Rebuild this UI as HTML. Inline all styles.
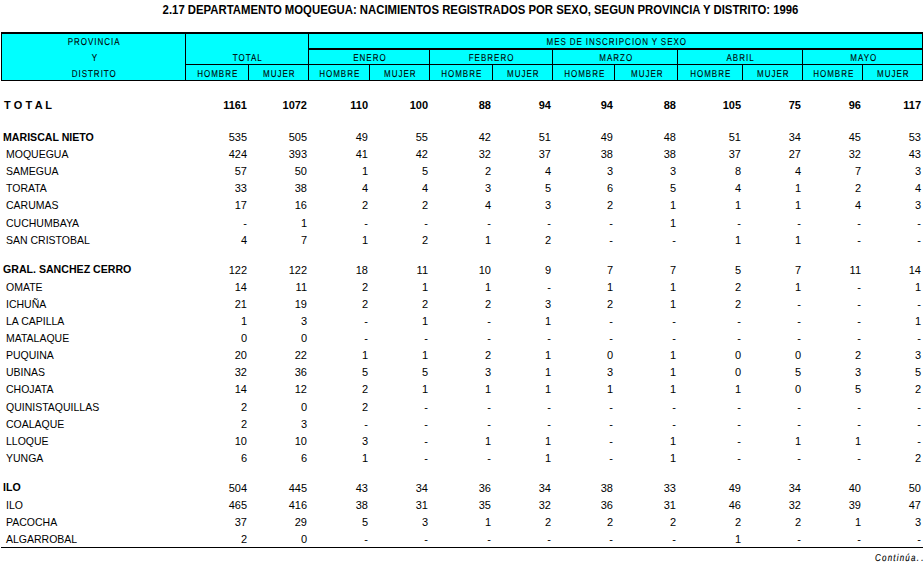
<!DOCTYPE html>
<html><head><meta charset="utf-8"><style>
html,body{margin:0;padding:0;background:#fff;}
body{width:924px;height:566px;position:relative;overflow:hidden;font-family:"Liberation Sans",sans-serif;color:#000;}
.a{position:absolute;white-space:nowrap;}
.r{position:absolute;height:17px;line-height:17px;font-size:11px;white-space:nowrap;}
.n{position:absolute;text-align:right;top:0;}
.b{font-weight:bold;}
.lr{font-size:10.5px;}
.lb{font-size:10.6px;}
.hl{position:absolute;background:#000;}
.h{position:absolute;font-size:10px;line-height:16px;height:16px;text-align:center;white-space:nowrap;word-spacing:1.5px;}
.h span{display:inline-block;transform:scaleX(0.8);text-rendering:geometricPrecision;-webkit-text-stroke:0.1px #000;letter-spacing:1.25px;word-spacing:-0.5px;position:relative;left:1.5px;}
#title{position:absolute;left:0;top:1px;width:961px;text-align:center;font-weight:bold;font-size:12px;line-height:18px;transform:scaleX(0.945);transform-origin:480.5px 0;}
#cont{position:absolute;font-style:italic;font-size:10px;line-height:12px;transform:scaleX(0.8);transform-origin:0 0;letter-spacing:1.5px;text-rendering:geometricPrecision;-webkit-text-stroke:0.15px #000;}
</style></head><body>
<div id="title">2.17 DEPARTAMENTO MOQUEGUA: NACIMIENTOS REGISTRADOS POR SEXO, SEGUN PROVINCIA Y DISTRITO: 1996</div>
<div class="a" style="left:1px;top:32px;width:922px;height:49px;background:#00ffff"></div>
<div class="hl" style="left:1px;top:32px;width:922px;height:2px"></div>
<div class="hl" style="left:1px;top:80px;width:922px;height:1px"></div>
<div class="hl" style="left:1px;top:32px;width:1px;height:49px"></div>
<div class="hl" style="left:922px;top:32px;width:1px;height:49px"></div>
<div class="hl" style="left:185px;top:32px;width:1px;height:49px"></div>
<div class="hl" style="left:308px;top:32px;width:1px;height:49px"></div>
<div class="hl" style="left:308px;top:48px;width:615px;height:2px"></div>
<div class="hl" style="left:185px;top:64px;width:738px;height:1px"></div>
<div class="hl" style="left:429px;top:48px;width:1px;height:33px"></div>
<div class="hl" style="left:552px;top:48px;width:1px;height:33px"></div>
<div class="hl" style="left:677px;top:48px;width:1px;height:33px"></div>
<div class="hl" style="left:802px;top:48px;width:1px;height:33px"></div>
<div class="hl" style="left:248px;top:64px;width:1px;height:17px"></div>
<div class="hl" style="left:369px;top:64px;width:1px;height:17px"></div>
<div class="hl" style="left:492px;top:64px;width:1px;height:17px"></div>
<div class="hl" style="left:614px;top:64px;width:1px;height:17px"></div>
<div class="hl" style="left:742px;top:64px;width:1px;height:17px"></div>
<div class="hl" style="left:862px;top:64px;width:1px;height:17px"></div>
<div class="h" style="left:1px;width:184px;top:33.5px"><span>PROVINCIA</span></div>
<div class="h" style="left:1px;width:184px;top:49.5px"><span>Y</span></div>
<div class="h" style="left:1px;width:184px;top:65.5px"><span>DISTRITO</span></div>
<div class="h" style="left:185px;width:123px;top:49.5px"><span>TOTAL</span></div>
<div class="h" style="left:308px;width:614px;top:33.5px"><span>MES DE INSCRIPCION Y SEXO</span></div>
<div class="h" style="left:308px;width:121px;top:49.5px"><span>ENERO</span></div>
<div class="h" style="left:429px;width:123px;top:49.5px"><span>FEBRERO</span></div>
<div class="h" style="left:552px;width:125px;top:49.5px"><span>MARZO</span></div>
<div class="h" style="left:677px;width:125px;top:49.5px"><span>ABRIL</span></div>
<div class="h" style="left:802px;width:120px;top:49.5px"><span>MAYO</span></div>
<div class="h" style="left:185px;width:63px;top:65.5px"><span>HOMBRE</span></div>
<div class="h" style="left:248px;width:60px;top:65.5px"><span>MUJER</span></div>
<div class="h" style="left:308px;width:61px;top:65.5px"><span>HOMBRE</span></div>
<div class="h" style="left:369px;width:60px;top:65.5px"><span>MUJER</span></div>
<div class="h" style="left:429px;width:63px;top:65.5px"><span>HOMBRE</span></div>
<div class="h" style="left:492px;width:60px;top:65.5px"><span>MUJER</span></div>
<div class="h" style="left:552px;width:62px;top:65.5px"><span>HOMBRE</span></div>
<div class="h" style="left:614px;width:63px;top:65.5px"><span>MUJER</span></div>
<div class="h" style="left:677px;width:65px;top:65.5px"><span>HOMBRE</span></div>
<div class="h" style="left:742px;width:60px;top:65.5px"><span>MUJER</span></div>
<div class="h" style="left:802px;width:60px;top:65.5px"><span>HOMBRE</span></div>
<div class="h" style="left:862px;width:60px;top:65.5px"><span>MUJER</span></div>
<div class="r" style="top:97.0px;left:0;width:924px"><span class="n b" style="left:4px;top:0px;text-align:left">T O T A L</span><span class="n b" style="left:185px;width:62px">1161</span><span class="n b" style="left:248px;width:59px">1072</span><span class="n b" style="left:308px;width:60px">110</span><span class="n b" style="left:369px;width:59px">100</span><span class="n b" style="left:429px;width:62px">88</span><span class="n b" style="left:492px;width:59px">94</span><span class="n b" style="left:552px;width:61px">94</span><span class="n b" style="left:614px;width:62px">88</span><span class="n b" style="left:677px;width:64px">105</span><span class="n b" style="left:742px;width:59px">75</span><span class="n b" style="left:802px;width:59px">96</span><span class="n b" style="left:862px;width:59px">117</span></div>
<div class="r" style="top:129.0px;left:0;width:924px"><span class="n b lb" style="left:3px;top:0px;text-align:left">MARISCAL NIETO</span><span class="n " style="left:185px;width:62px">535</span><span class="n " style="left:248px;width:59px">505</span><span class="n " style="left:308px;width:60px">49</span><span class="n " style="left:369px;width:59px">55</span><span class="n " style="left:429px;width:62px">42</span><span class="n " style="left:492px;width:59px">51</span><span class="n " style="left:552px;width:61px">49</span><span class="n " style="left:614px;width:62px">48</span><span class="n " style="left:677px;width:64px">51</span><span class="n " style="left:742px;width:59px">34</span><span class="n " style="left:802px;width:59px">45</span><span class="n " style="left:862px;width:59px">53</span></div>
<div class="r" style="top:146.0px;left:0;width:924px"><span class="n lr" style="left:6px;top:0px;text-align:left">MOQUEGUA</span><span class="n " style="left:185px;width:62px">424</span><span class="n " style="left:248px;width:59px">393</span><span class="n " style="left:308px;width:60px">41</span><span class="n " style="left:369px;width:59px">42</span><span class="n " style="left:429px;width:62px">32</span><span class="n " style="left:492px;width:59px">37</span><span class="n " style="left:552px;width:61px">38</span><span class="n " style="left:614px;width:62px">38</span><span class="n " style="left:677px;width:64px">37</span><span class="n " style="left:742px;width:59px">27</span><span class="n " style="left:802px;width:59px">32</span><span class="n " style="left:862px;width:59px">43</span></div>
<div class="r" style="top:163.0px;left:0;width:924px"><span class="n lr" style="left:6px;top:0px;text-align:left">SAMEGUA</span><span class="n " style="left:185px;width:62px">57</span><span class="n " style="left:248px;width:59px">50</span><span class="n " style="left:308px;width:60px">1</span><span class="n " style="left:369px;width:59px">5</span><span class="n " style="left:429px;width:62px">2</span><span class="n " style="left:492px;width:59px">4</span><span class="n " style="left:552px;width:61px">3</span><span class="n " style="left:614px;width:62px">3</span><span class="n " style="left:677px;width:64px">8</span><span class="n " style="left:742px;width:59px">4</span><span class="n " style="left:802px;width:59px">7</span><span class="n " style="left:862px;width:59px">3</span></div>
<div class="r" style="top:180.0px;left:0;width:924px"><span class="n lr" style="left:6px;top:0px;text-align:left">TORATA</span><span class="n " style="left:185px;width:62px">33</span><span class="n " style="left:248px;width:59px">38</span><span class="n " style="left:308px;width:60px">4</span><span class="n " style="left:369px;width:59px">4</span><span class="n " style="left:429px;width:62px">3</span><span class="n " style="left:492px;width:59px">5</span><span class="n " style="left:552px;width:61px">6</span><span class="n " style="left:614px;width:62px">5</span><span class="n " style="left:677px;width:64px">4</span><span class="n " style="left:742px;width:59px">1</span><span class="n " style="left:802px;width:59px">2</span><span class="n " style="left:862px;width:59px">4</span></div>
<div class="r" style="top:197.0px;left:0;width:924px"><span class="n lr" style="left:6px;top:0px;text-align:left">CARUMAS</span><span class="n " style="left:185px;width:62px">17</span><span class="n " style="left:248px;width:59px">16</span><span class="n " style="left:308px;width:60px">2</span><span class="n " style="left:369px;width:59px">2</span><span class="n " style="left:429px;width:62px">4</span><span class="n " style="left:492px;width:59px">3</span><span class="n " style="left:552px;width:61px">2</span><span class="n " style="left:614px;width:62px">1</span><span class="n " style="left:677px;width:64px">1</span><span class="n " style="left:742px;width:59px">1</span><span class="n " style="left:802px;width:59px">4</span><span class="n " style="left:862px;width:59px">3</span></div>
<div class="r" style="top:215.0px;left:0;width:924px"><span class="n lr" style="left:6px;top:0px;text-align:left">CUCHUMBAYA</span><span class="n " style="left:185px;width:62px">-</span><span class="n " style="left:248px;width:59px">1</span><span class="n " style="left:308px;width:60px">-</span><span class="n " style="left:369px;width:59px">-</span><span class="n " style="left:429px;width:62px">-</span><span class="n " style="left:492px;width:59px">-</span><span class="n " style="left:552px;width:61px">-</span><span class="n " style="left:614px;width:62px">1</span><span class="n " style="left:677px;width:64px">-</span><span class="n " style="left:742px;width:59px">-</span><span class="n " style="left:802px;width:59px">-</span><span class="n " style="left:862px;width:59px">-</span></div>
<div class="r" style="top:232.0px;left:0;width:924px"><span class="n lr" style="left:6px;top:0px;text-align:left">SAN CRISTOBAL</span><span class="n " style="left:185px;width:62px">4</span><span class="n " style="left:248px;width:59px">7</span><span class="n " style="left:308px;width:60px">1</span><span class="n " style="left:369px;width:59px">2</span><span class="n " style="left:429px;width:62px">1</span><span class="n " style="left:492px;width:59px">2</span><span class="n " style="left:552px;width:61px">-</span><span class="n " style="left:614px;width:62px">-</span><span class="n " style="left:677px;width:64px">1</span><span class="n " style="left:742px;width:59px">1</span><span class="n " style="left:802px;width:59px">-</span><span class="n " style="left:862px;width:59px">-</span></div>
<div class="r" style="top:262.0px;left:0;width:924px"><span class="n b lb" style="left:3px;top:-1px;text-align:left">GRAL. SANCHEZ CERRO</span><span class="n " style="left:185px;width:62px">122</span><span class="n " style="left:248px;width:59px">122</span><span class="n " style="left:308px;width:60px">18</span><span class="n " style="left:369px;width:59px">11</span><span class="n " style="left:429px;width:62px">10</span><span class="n " style="left:492px;width:59px">9</span><span class="n " style="left:552px;width:61px">7</span><span class="n " style="left:614px;width:62px">7</span><span class="n " style="left:677px;width:64px">5</span><span class="n " style="left:742px;width:59px">7</span><span class="n " style="left:802px;width:59px">11</span><span class="n " style="left:862px;width:59px">14</span></div>
<div class="r" style="top:279.0px;left:0;width:924px"><span class="n lr" style="left:6px;top:0px;text-align:left">OMATE</span><span class="n " style="left:185px;width:62px">14</span><span class="n " style="left:248px;width:59px">11</span><span class="n " style="left:308px;width:60px">2</span><span class="n " style="left:369px;width:59px">1</span><span class="n " style="left:429px;width:62px">1</span><span class="n " style="left:492px;width:59px">-</span><span class="n " style="left:552px;width:61px">1</span><span class="n " style="left:614px;width:62px">1</span><span class="n " style="left:677px;width:64px">2</span><span class="n " style="left:742px;width:59px">1</span><span class="n " style="left:802px;width:59px">-</span><span class="n " style="left:862px;width:59px">1</span></div>
<div class="r" style="top:296.0px;left:0;width:924px"><span class="n lr" style="left:6px;top:0px;text-align:left">ICHUÑA</span><span class="n " style="left:185px;width:62px">21</span><span class="n " style="left:248px;width:59px">19</span><span class="n " style="left:308px;width:60px">2</span><span class="n " style="left:369px;width:59px">2</span><span class="n " style="left:429px;width:62px">2</span><span class="n " style="left:492px;width:59px">3</span><span class="n " style="left:552px;width:61px">2</span><span class="n " style="left:614px;width:62px">1</span><span class="n " style="left:677px;width:64px">2</span><span class="n " style="left:742px;width:59px">-</span><span class="n " style="left:802px;width:59px">-</span><span class="n " style="left:862px;width:59px">-</span></div>
<div class="r" style="top:313.0px;left:0;width:924px"><span class="n lr" style="left:6px;top:0px;text-align:left">LA CAPILLA</span><span class="n " style="left:185px;width:62px">1</span><span class="n " style="left:248px;width:59px">3</span><span class="n " style="left:308px;width:60px">-</span><span class="n " style="left:369px;width:59px">1</span><span class="n " style="left:429px;width:62px">-</span><span class="n " style="left:492px;width:59px">1</span><span class="n " style="left:552px;width:61px">-</span><span class="n " style="left:614px;width:62px">-</span><span class="n " style="left:677px;width:64px">-</span><span class="n " style="left:742px;width:59px">-</span><span class="n " style="left:802px;width:59px">-</span><span class="n " style="left:862px;width:59px">1</span></div>
<div class="r" style="top:330.0px;left:0;width:924px"><span class="n lr" style="left:6px;top:0px;text-align:left">MATALAQUE</span><span class="n " style="left:185px;width:62px">0</span><span class="n " style="left:248px;width:59px">0</span><span class="n " style="left:308px;width:60px">-</span><span class="n " style="left:369px;width:59px">-</span><span class="n " style="left:429px;width:62px">-</span><span class="n " style="left:492px;width:59px">-</span><span class="n " style="left:552px;width:61px">-</span><span class="n " style="left:614px;width:62px">-</span><span class="n " style="left:677px;width:64px">-</span><span class="n " style="left:742px;width:59px">-</span><span class="n " style="left:802px;width:59px">-</span><span class="n " style="left:862px;width:59px">-</span></div>
<div class="r" style="top:347.0px;left:0;width:924px"><span class="n lr" style="left:6px;top:0px;text-align:left">PUQUINA</span><span class="n " style="left:185px;width:62px">20</span><span class="n " style="left:248px;width:59px">22</span><span class="n " style="left:308px;width:60px">1</span><span class="n " style="left:369px;width:59px">1</span><span class="n " style="left:429px;width:62px">2</span><span class="n " style="left:492px;width:59px">1</span><span class="n " style="left:552px;width:61px">0</span><span class="n " style="left:614px;width:62px">1</span><span class="n " style="left:677px;width:64px">0</span><span class="n " style="left:742px;width:59px">0</span><span class="n " style="left:802px;width:59px">2</span><span class="n " style="left:862px;width:59px">3</span></div>
<div class="r" style="top:364.0px;left:0;width:924px"><span class="n lr" style="left:6px;top:0px;text-align:left">UBINAS</span><span class="n " style="left:185px;width:62px">32</span><span class="n " style="left:248px;width:59px">36</span><span class="n " style="left:308px;width:60px">5</span><span class="n " style="left:369px;width:59px">5</span><span class="n " style="left:429px;width:62px">3</span><span class="n " style="left:492px;width:59px">1</span><span class="n " style="left:552px;width:61px">3</span><span class="n " style="left:614px;width:62px">1</span><span class="n " style="left:677px;width:64px">0</span><span class="n " style="left:742px;width:59px">5</span><span class="n " style="left:802px;width:59px">3</span><span class="n " style="left:862px;width:59px">5</span></div>
<div class="r" style="top:381.0px;left:0;width:924px"><span class="n lr" style="left:6px;top:0px;text-align:left">CHOJATA</span><span class="n " style="left:185px;width:62px">14</span><span class="n " style="left:248px;width:59px">12</span><span class="n " style="left:308px;width:60px">2</span><span class="n " style="left:369px;width:59px">1</span><span class="n " style="left:429px;width:62px">1</span><span class="n " style="left:492px;width:59px">1</span><span class="n " style="left:552px;width:61px">1</span><span class="n " style="left:614px;width:62px">1</span><span class="n " style="left:677px;width:64px">1</span><span class="n " style="left:742px;width:59px">0</span><span class="n " style="left:802px;width:59px">5</span><span class="n " style="left:862px;width:59px">2</span></div>
<div class="r" style="top:399.0px;left:0;width:924px"><span class="n lr" style="left:6px;top:0px;text-align:left">QUINISTAQUILLAS</span><span class="n " style="left:185px;width:62px">2</span><span class="n " style="left:248px;width:59px">0</span><span class="n " style="left:308px;width:60px">2</span><span class="n " style="left:369px;width:59px">-</span><span class="n " style="left:429px;width:62px">-</span><span class="n " style="left:492px;width:59px">-</span><span class="n " style="left:552px;width:61px">-</span><span class="n " style="left:614px;width:62px">-</span><span class="n " style="left:677px;width:64px">-</span><span class="n " style="left:742px;width:59px">-</span><span class="n " style="left:802px;width:59px">-</span><span class="n " style="left:862px;width:59px">-</span></div>
<div class="r" style="top:416.0px;left:0;width:924px"><span class="n lr" style="left:6px;top:0px;text-align:left">COALAQUE</span><span class="n " style="left:185px;width:62px">2</span><span class="n " style="left:248px;width:59px">3</span><span class="n " style="left:308px;width:60px">-</span><span class="n " style="left:369px;width:59px">-</span><span class="n " style="left:429px;width:62px">-</span><span class="n " style="left:492px;width:59px">-</span><span class="n " style="left:552px;width:61px">-</span><span class="n " style="left:614px;width:62px">-</span><span class="n " style="left:677px;width:64px">-</span><span class="n " style="left:742px;width:59px">-</span><span class="n " style="left:802px;width:59px">-</span><span class="n " style="left:862px;width:59px">-</span></div>
<div class="r" style="top:433.0px;left:0;width:924px"><span class="n lr" style="left:6px;top:0px;text-align:left">LLOQUE</span><span class="n " style="left:185px;width:62px">10</span><span class="n " style="left:248px;width:59px">10</span><span class="n " style="left:308px;width:60px">3</span><span class="n " style="left:369px;width:59px">-</span><span class="n " style="left:429px;width:62px">1</span><span class="n " style="left:492px;width:59px">1</span><span class="n " style="left:552px;width:61px">-</span><span class="n " style="left:614px;width:62px">1</span><span class="n " style="left:677px;width:64px">-</span><span class="n " style="left:742px;width:59px">1</span><span class="n " style="left:802px;width:59px">1</span><span class="n " style="left:862px;width:59px">-</span></div>
<div class="r" style="top:450.0px;left:0;width:924px"><span class="n lr" style="left:6px;top:0px;text-align:left">YUNGA</span><span class="n " style="left:185px;width:62px">6</span><span class="n " style="left:248px;width:59px">6</span><span class="n " style="left:308px;width:60px">1</span><span class="n " style="left:369px;width:59px">-</span><span class="n " style="left:429px;width:62px">-</span><span class="n " style="left:492px;width:59px">1</span><span class="n " style="left:552px;width:61px">-</span><span class="n " style="left:614px;width:62px">1</span><span class="n " style="left:677px;width:64px">-</span><span class="n " style="left:742px;width:59px">-</span><span class="n " style="left:802px;width:59px">-</span><span class="n " style="left:862px;width:59px">2</span></div>
<div class="r" style="top:480.0px;left:0;width:924px"><span class="n b lb" style="left:3px;top:-1px;text-align:left">ILO</span><span class="n " style="left:185px;width:62px">504</span><span class="n " style="left:248px;width:59px">445</span><span class="n " style="left:308px;width:60px">43</span><span class="n " style="left:369px;width:59px">34</span><span class="n " style="left:429px;width:62px">36</span><span class="n " style="left:492px;width:59px">34</span><span class="n " style="left:552px;width:61px">38</span><span class="n " style="left:614px;width:62px">33</span><span class="n " style="left:677px;width:64px">49</span><span class="n " style="left:742px;width:59px">34</span><span class="n " style="left:802px;width:59px">40</span><span class="n " style="left:862px;width:59px">50</span></div>
<div class="r" style="top:497.0px;left:0;width:924px"><span class="n lr" style="left:6px;top:0px;text-align:left">ILO</span><span class="n " style="left:185px;width:62px">465</span><span class="n " style="left:248px;width:59px">416</span><span class="n " style="left:308px;width:60px">38</span><span class="n " style="left:369px;width:59px">31</span><span class="n " style="left:429px;width:62px">35</span><span class="n " style="left:492px;width:59px">32</span><span class="n " style="left:552px;width:61px">36</span><span class="n " style="left:614px;width:62px">31</span><span class="n " style="left:677px;width:64px">46</span><span class="n " style="left:742px;width:59px">32</span><span class="n " style="left:802px;width:59px">39</span><span class="n " style="left:862px;width:59px">47</span></div>
<div class="r" style="top:514.0px;left:0;width:924px"><span class="n lr" style="left:6px;top:0px;text-align:left">PACOCHA</span><span class="n " style="left:185px;width:62px">37</span><span class="n " style="left:248px;width:59px">29</span><span class="n " style="left:308px;width:60px">5</span><span class="n " style="left:369px;width:59px">3</span><span class="n " style="left:429px;width:62px">1</span><span class="n " style="left:492px;width:59px">2</span><span class="n " style="left:552px;width:61px">2</span><span class="n " style="left:614px;width:62px">2</span><span class="n " style="left:677px;width:64px">2</span><span class="n " style="left:742px;width:59px">2</span><span class="n " style="left:802px;width:59px">1</span><span class="n " style="left:862px;width:59px">3</span></div>
<div class="r" style="top:531.0px;left:0;width:924px"><span class="n lr" style="left:6px;top:0px;text-align:left">ALGARROBAL</span><span class="n " style="left:185px;width:62px">2</span><span class="n " style="left:248px;width:59px">0</span><span class="n " style="left:308px;width:60px">-</span><span class="n " style="left:369px;width:59px">-</span><span class="n " style="left:429px;width:62px">-</span><span class="n " style="left:492px;width:59px">-</span><span class="n " style="left:552px;width:61px">-</span><span class="n " style="left:614px;width:62px">-</span><span class="n " style="left:677px;width:64px">1</span><span class="n " style="left:742px;width:59px">-</span><span class="n " style="left:802px;width:59px">-</span><span class="n " style="left:862px;width:59px">-</span></div>
<div class="hl" style="left:1px;top:547px;width:922px;height:1px"></div>
<div id="cont" style="left:875px;top:553px">Continúa<span style="letter-spacing:3px">...</span></div>
</body></html>
